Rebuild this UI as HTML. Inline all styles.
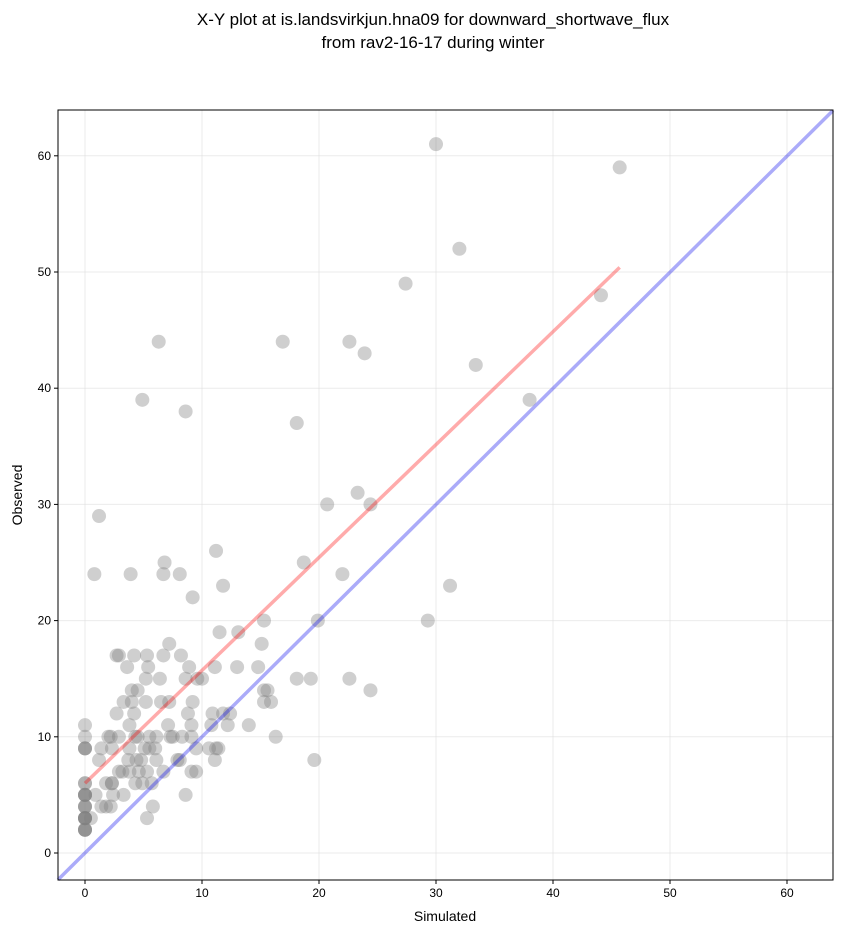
<!DOCTYPE html>
<html><head><meta charset="utf-8"><style>
body{margin:0;background:#fff;width:842px;height:934px;overflow:hidden;font-family:"Liberation Sans","DejaVu Sans",sans-serif}
</style></head><body>
<svg id="s" width="842" height="934" xmlns="http://www.w3.org/2000/svg" font-family="Liberation Sans, DejaVu Sans, sans-serif">
<text x="433" y="25" font-size="17" text-anchor="middle">X-Y plot at is.landsvirkjun.hna09 for downward_shortwave_flux</text>
<text x="433" y="48" font-size="17" text-anchor="middle">from rav2-16-17 during winter</text>
<g id="g"></g>
<rect x="58" y="110" width="775" height="770" fill="none" stroke="#000" stroke-width="1"/>
<text x="445" y="921" font-size="14" text-anchor="middle">Simulated</text>
<text transform="translate(22,495) rotate(-90)" font-size="14" text-anchor="middle">Observed</text>
</svg>
<script>
var g=document.getElementById('g');
function X(x){return 85+11.7*x}function Y(y){return 853-11.62*y}
var h='';
for(var t=0;t<=60;t+=10){
h+='<line x1="'+X(t)+'" y1="110" x2="'+X(t)+'" y2="880" stroke="#ddd" stroke-opacity="0.6"/>';
h+='<line x1="58" y1="'+Y(t)+'" x2="833" y2="'+Y(t)+'" stroke="#ddd" stroke-opacity="0.6"/>';
h+='<line x1="'+X(t)+'" y1="880" x2="'+X(t)+'" y2="884" stroke="#000"/>';
h+='<text x="'+X(t)+'" y="897" font-size="12" text-anchor="middle">'+t+'</text>';
h+='<line x1="54" y1="'+Y(t)+'" x2="58" y2="'+Y(t)+'" stroke="#000"/>';
h+='<text x="51" y="'+(Y(t)+4)+'" font-size="12" text-anchor="end">'+t+'</text>';
}
var p=[[30,61],[45.7,59],[32,52],[27.4,49],[44.1,48],[6.3,44],[16.9,44],[22.6,44],[23.9,43],[33.4,42],[4.9,39],[38,39],[8.6,38],[18.1,37],[23.3,31],[24.4,30],[20.7,30],[1.2,29],[11.2,26],[6.8,25],[18.7,25],[0.8,24],[3.9,24],[6.7,24],[8.1,24],[22,24],[11.8,23],[31.2,23],[9.2,22],[29.3,20],[19.9,20],[15.3,20],[13.1,19],[11.5,19],[7.2,18],[15.1,18],[2.7,17],[2.9,17],[4.2,17],[5.3,17],[6.7,17],[8.2,17],[3.6,16],[5.4,16],[8.9,16],[11.1,16],[13,16],[14.8,16],[6.4,15],[5.2,15],[8.6,15],[9.6,15],[10,15],[18.1,15],[19.3,15],[22.6,15],[4,14],[4.5,14],[15.3,14],[15.6,14],[24.4,14],[3.3,13],[4,13],[5.2,13],[6.5,13],[7.2,13],[9.2,13],[15.3,13],[15.9,13],[2.7,12],[4.2,12],[8.8,12],[10.9,12],[11.8,12],[12.4,12],[0,11],[3.8,11],[7.1,11],[9.1,11],[10.8,11],[12.2,11],[14,11],[0,10],[2,10],[2.2,10],[2.9,10],[4.3,10],[4.5,10],[5.5,10],[6.1,10],[7.3,10],[7.5,10],[8.3,10],[9.1,10],[16.3,10],[0,9],[1.4,9],[2.3,9],[3.8,9],[5.1,9],[5.5,9],[6,9],[9.5,9],[10.6,9],[11.2,9],[11.4,9],[1.2,8],[3.7,8],[4.4,8],[4.8,8],[6.1,8],[7.9,8],[8.1,8],[11.1,8],[19.6,8],[2.9,7],[3.2,7],[3.8,7],[4.6,7],[5.3,7],[6.7,7],[9.1,7],[9.5,7],[0,6],[1.8,6],[2.3,6],[2.3,6],[4.3,6],[4.9,6],[5.7,6],[0,5],[0.9,5],[2.4,5],[3.3,5],[8.6,5],[0,4],[1.4,4],[1.8,4],[2.2,4],[5.8,4],[0,3],[0,3],[0.5,3],[5.3,3],[0,2],[0,2],[0,5],[0,4],[0,6],[0,9],[0,3],[0,5],[0,2],[0,3],[0,3],[0,5],[0,4],[0,2],[0,9]];
p.forEach(function(q){h+='<circle cx="'+X(q[0])+'" cy="'+Y(q[1])+'" r="7" fill="#808080" fill-opacity="0.38"/>';});
h+='<line x1="58" y1="'+Y(-2.3)+'" x2="833" y2="'+Y(63.9)+'" stroke="#0000ee" stroke-opacity="0.33" stroke-width="3.5"/>';
h+='<line x1="'+X(0)+'" y1="'+Y(6)+'" x2="'+X(45.7)+'" y2="'+Y(50.4)+'" stroke="#ff0000" stroke-opacity="0.33" stroke-width="3.5"/>';
g.innerHTML=h;
</script>
</body></html>
